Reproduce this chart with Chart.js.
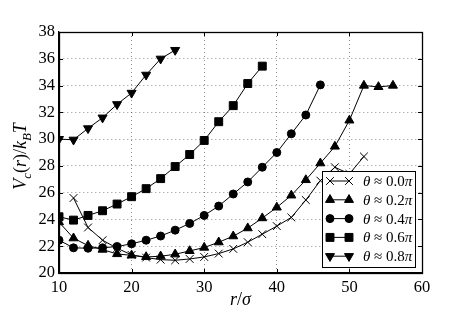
<!DOCTYPE html>
<html>
<head>
<meta charset="utf-8">
<script src="https://cdn.jsdelivr.net/npm/chart.js"></script>
<style>
  html, body { margin: 0; padding: 0; background: #fff; }
  #wrap { width: 469px; height: 313px; }
</style>
</head>
<body>
<div id="wrap"><canvas id="Cnvs1" width="469" height="313"></canvas></div>
<script>
// r/sigma values and V_c(r)/k_BT for each theta
var r_00 = [12, 14, 16, 18, 20, 22, 24, 26, 28, 30, 32, 34, 36, 38, 40, 42, 44, 46, 48, 50, 52];
var v_00 = [25.6, 23.4, 22.45, 21.85, 21.35, 21.15, 21.0, 20.95, 21.05, 21.2, 21.45, 21.8, 22.3, 22.9, 23.5, 24.15, 25.45, 26.9, 27.9, 27.4, 28.7];

var r_02 = [10, 12, 14, 16, 18, 20, 22, 24, 26, 28, 30, 32, 34, 36, 38, 40, 42, 44, 46, 48, 50, 52, 54, 56];
var v_02 = [23.8, 22.6, 22.05, 21.75, 21.42, 21.32, 21.2, 21.25, 21.4, 21.65, 21.9, 22.3, 22.75, 23.35, 24.1, 24.9, 25.8, 26.95, 28.2, 29.45, 31.4, 34.0, 33.9, 34.0];

var r_04 = [10, 12, 14, 16, 18, 20, 22, 24, 26, 28, 30, 32, 34, 36, 38, 40, 42, 44, 46];
var v_04 = [22.45, 21.88, 21.85, 21.88, 21.98, 22.18, 22.45, 22.76, 23.2, 23.7, 24.3, 25.0, 25.9, 26.8, 27.9, 29.0, 30.4, 31.8, 34.05];

var r_06 = [10, 12, 14, 16, 18, 20, 22, 24, 26, 28, 30, 32, 34, 36, 38];
var v_06 = [24.2, 23.95, 24.3, 24.65, 25.15, 25.7, 26.3, 27.05, 27.95, 28.85, 29.9, 31.3, 32.5, 34.15, 35.45];

var r_08 = [10, 12, 14, 16, 18, 20, 22, 24, 26];
var v_08 = [30.0, 29.95, 30.8, 31.6, 32.6, 33.45, 34.8, 36.0, 36.65];

var x_ticks = [10, 20, 30, 40, 50, 60];
var y_ticks = [20, 22, 24, 26, 28, 30, 32, 34, 36, 38];

var theta_labels = ['0.0', '0.2', '0.4', '0.6', '0.8'];

var serif = "'Liberation Serif', 'DejaVu Serif', serif";

function pts(xs, ys) {
  var out = [];
  for (var i = 0; i < xs.length; i++) out.push({x: xs[i], y: ys[i]});
  return out;
}

function series(label, xs, ys, style, radius, rot) {
  return {
    label: label,
    data: pts(xs, ys),
    borderColor: '#000',
    backgroundColor: '#000',
    borderWidth: 1,
    pointStyle: style,
    pointRadius: radius,
    pointHoverRadius: radius,
    pointRotation: rot || 0,
    pointBackgroundColor: '#000',
    pointBorderColor: '#000',
    pointBorderWidth: 1,
    tension: 0,
    fill: false
  };
}

// draws pieces of text [{t, it, sub}] in a row, centred on (cx, cy)
function mathText(ctx, parts, cx, cy, size) {
  var w = 0, i, p;
  for (i = 0; i < parts.length; i++) {
    p = parts[i];
    ctx.font = (p.it ? 'italic ' : '') + (p.sub ? Math.round(size * 0.7) : size) + 'px ' + serif;
    p.w = ctx.measureText(p.t).width;
    w += p.w;
  }
  var x = cx - w / 2;
  ctx.textAlign = 'left';
  ctx.textBaseline = 'alphabetic';
  for (i = 0; i < parts.length; i++) {
    p = parts[i];
    ctx.font = (p.it ? 'italic ' : '') + (p.sub ? Math.round(size * 0.7) : size) + 'px ' + serif;
    ctx.fillText(p.t, x, cy + (p.sub ? size * 0.25 : 0));
    x += p.w;
  }
}

var extras = {
  id: 'extras',
  afterDraw: function(chart) {
    var ctx = chart.ctx;
    var a = chart.chartArea;
    var xs = chart.scales.x, ys = chart.scales.y;
    var i, p;
    ctx.save();
    ctx.strokeStyle = '#000';
    ctx.fillStyle = '#000';
    ctx.lineWidth = 1;
    ctx.setLineDash([]);

    // ticks pointing in, all four sides
    ctx.beginPath();
    for (i = 0; i < x_ticks.length; i++) {
      p = Math.round(xs.getPixelForValue(x_ticks[i])) + 0.5;
      ctx.moveTo(p, a.bottom); ctx.lineTo(p, a.bottom - 4);
      ctx.moveTo(p, a.top); ctx.lineTo(p, a.top + 4);
    }
    for (i = 0; i < y_ticks.length; i++) {
      p = Math.round(ys.getPixelForValue(y_ticks[i])) + 0.5;
      ctx.moveTo(a.left, p); ctx.lineTo(a.left + 4, p);
      ctx.moveTo(a.right, p); ctx.lineTo(a.right - 4, p);
    }
    ctx.stroke();

    // frame
    ctx.lineWidth = 1.3;
    ctx.strokeRect(Math.round(a.left) + 0.5, Math.round(a.top) + 0.5,
      Math.round(a.right - a.left), Math.round(a.bottom - a.top));

    // legend
    var lx = a.right - 100, ly = a.bottom - 102, lw = 93, lh = 96;
    ctx.fillStyle = '#fff';
    ctx.fillRect(lx, ly, lw, lh);
    ctx.lineWidth = 1;
    ctx.strokeRect(Math.round(lx) + 0.5, Math.round(ly) + 0.5, lw, lh);
    ctx.fillStyle = '#000';
    for (i = 0; i < chart.data.datasets.length; i++) {
      var ds = chart.data.datasets[i];
      var yy = ly + 10 + i * 18.8;
      ctx.beginPath();
      ctx.moveTo(lx + 8, yy); ctx.lineTo(lx + 27, yy);
      ctx.stroke();
      var opts = {pointStyle: ds.pointStyle, rotation: ds.pointRotation, radius: ds.pointRadius, borderWidth: 1};
      Chart.helpers.drawPoint(ctx, opts, lx + 8, yy);
      Chart.helpers.drawPoint(ctx, opts, lx + 27, yy);
      var tx = lx + 41;
      ctx.textAlign = 'left';
      ctx.textBaseline = 'middle';
      ctx.font = 'italic 15px ' + serif;
      ctx.fillText('\u03B8', tx, yy + 1);
      tx += ctx.measureText('\u03B8').width;
      ctx.font = '15px ' + serif;
      var mid = ' \u2248 ' + theta_labels[i];
      ctx.fillText(mid, tx, yy + 1);
      tx += ctx.measureText(mid).width;
      ctx.font = 'italic 15px ' + serif;
      ctx.fillText('\u03C0', tx, yy + 1);
    }

    // axis titles
    mathText(ctx, [{t: 'r', it: true}, {t: '/'}, {t: '\u03C3', it: true}], (a.left + a.right) / 2, 305, 18);
    ctx.translate(26, (a.top + a.bottom) / 2 + 4);
    ctx.rotate(-Math.PI / 2);
    mathText(ctx, [
      {t: 'V', it: true}, {t: 'c', it: true, sub: true}, {t: '('}, {t: 'r', it: true}, {t: ')/'},
      {t: 'k', it: true}, {t: 'B', it: true, sub: true}, {t: 'T', it: true}
    ], 0, 0, 18);
    ctx.restore();
  }
};

var Cnvs = document.getElementById('Cnvs1').getContext('2d');
var lineChart = new Chart(Cnvs, {
  type: 'line',
  data: {
    datasets: [
      series('\u03B8 \u2248 0.0\u03C0', r_00, v_00, 'crossRot', 5.5),
      series('\u03B8 \u2248 0.2\u03C0', r_02, v_02, 'triangle', 5.2),
      series('\u03B8 \u2248 0.4\u03C0', r_04, v_04, 'circle', 4),
      series('\u03B8 \u2248 0.6\u03C0', r_06, v_06, 'rect', 5.6),
      series('\u03B8 \u2248 0.8\u03C0', r_08, v_08, 'triangle', 5.2, 180)
    ]
  },
  options: {
    responsive: false,
    animation: false,
    devicePixelRatio: 1,
    layout: { padding: { left: 0, top: 32, right: 47, bottom: 0 } },
    plugins: {
      legend: { display: false },
      tooltip: { enabled: false }
    },
    scales: {
      x: {
        type: 'linear',
        min: 10, max: 60,
        afterFit: function(s) { s.height = 40; },
        afterBuildTicks: function(s) { s.ticks = x_ticks.map(function(v) { return {value: v}; }); },
        ticks: { color: '#000', padding: 5, font: { family: serif, size: 16.5 } },
        grid: { color: 'rgba(0,0,0,0.45)', lineWidth: 1, drawTicks: false },
        border: { display: true, color: '#000', width: 1.3, dash: [1, 3] }
      },
      y: {
        type: 'linear',
        min: 20, max: 38,
        afterFit: function(s) { s.width = 59; },
        afterBuildTicks: function(s) { s.ticks = y_ticks.map(function(v) { return {value: v}; }); },
        ticks: { color: '#000', padding: 4, font: { family: serif, size: 16.5 } },
        grid: { color: 'rgba(0,0,0,0.45)', lineWidth: 1, drawTicks: false },
        border: { display: true, color: '#000', width: 1.3, dash: [1, 3] }
      }
    }
  },
  plugins: [extras]
});
</script>
</body>
</html>
